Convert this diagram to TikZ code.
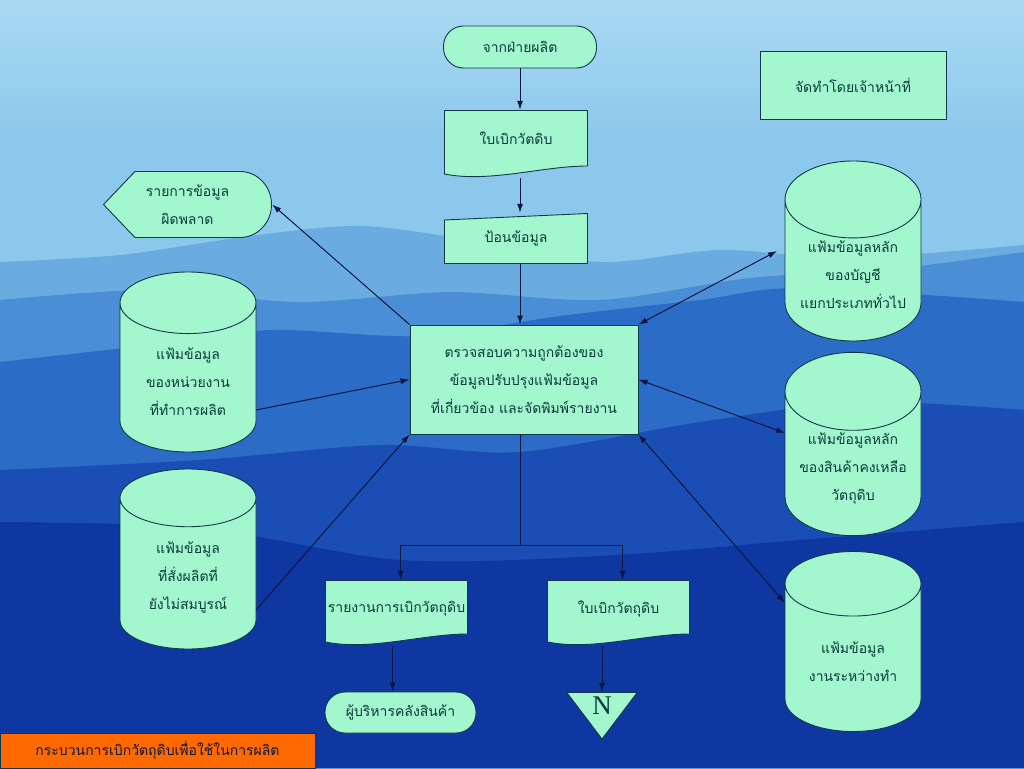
\documentclass[tikz,border=0pt]{standalone}
\usepackage{fontspec}
\usepackage{tikz}
\usetikzlibrary{shapes.geometric,arrows.meta,calc}
\newfontfamily\thaifont[Script=Thai]{Loma}
\newfontfamily\latinserif{Liberation Serif}
\definecolor{mint}{HTML}{A2F7CF}
\definecolor{txt}{HTML}{0B3A3A}
\definecolor{edge}{HTML}{123848}
\definecolor{arrowc}{HTML}{0A1640}
\definecolor{skya}{HTML}{7CC0E8}
\definecolor{skyb}{HTML}{C2E6F6}
\definecolor{skyc}{HTML}{A6D8F2}
\definecolor{skyd}{HTML}{8CC8EC}
\definecolor{ridgeA}{HTML}{6AACDF}
\definecolor{ridgeB}{HTML}{4A8ED6}
\definecolor{ridgeC}{HTML}{2A6CC6}
\definecolor{ridgeD}{HTML}{1A4EB4}
\definecolor{ridgeE}{HTML}{0E37A2}
\definecolor{footerc}{HTML}{FF6A00}
\pgfdeclareverticalshading{sky}{100bp}{color(0bp)=(skyd); color(66bp)=(skyd); color(74bp)=(skyc); color(87bp)=(skyb); color(100bp)=(skya)}
\tikzset{
	base/.style={font=\thaifont\fontsize{14}{28}\selectfont, text=txt, align=center, inner sep=2pt},
	term/.style={base, rectangle, rounded corners=20pt, draw=edge, fill=mint, line width=0.9pt, minimum width=153pt, minimum height=42pt},
	proc/.style={base, rectangle, draw=edge, fill=mint, line width=0.9pt, minimum width=228pt, minimum height=109pt},
	note/.style={base, rectangle, draw=edge, fill=mint, line width=0.9pt, minimum width=186pt, minimum height=68pt},
	store/.style={base, cylinder, shape border rotate=90, aspect=0.7, anchor=shape center, draw=edge, fill=mint, line width=0.9pt, minimum width=136pt, minimum height=180pt},
	doc/.style={base, rectangle, text depth=12pt, minimum width=144pt, minimum height=68pt, path picture={
		\filldraw[draw=edge, fill=mint, line width=0.9pt] ([shift={(0.5pt,-0.5pt)}]path picture bounding box.north west) -- ([shift={(-0.5pt,-0.5pt)}]path picture bounding box.north east) -- ([shift={(-0.5pt,12pt)}]path picture bounding box.south east) .. controls +(-45pt,0pt) and +(45pt,-9pt) .. ([shift={(0.5pt,4pt)}]path picture bounding box.south west) -- cycle;}},
	manual/.style={base, rectangle, minimum width=144pt, minimum height=51pt, path picture={
		\filldraw[draw=edge, fill=mint, line width=0.9pt] ([shift={(0.5pt,0.5pt)}]path picture bounding box.south west) -- ([shift={(0.5pt,-7pt)}]path picture bounding box.north west) -- ([shift={(-0.5pt,-0.5pt)}]path picture bounding box.north east) -- ([shift={(-0.5pt,0.5pt)}]path picture bounding box.south east) -- cycle;}},
	disp/.style={base, rectangle, minimum width=169pt, minimum height=67pt, path picture={
		\filldraw[draw=edge, fill=mint, line width=0.9pt] ([xshift=0.5pt]path picture bounding box.west) -- ([shift={(32pt,-0.5pt)}]path picture bounding box.north west) -- ([shift={(-32pt,-0.5pt)}]path picture bounding box.north east) arc[start angle=90, end angle=-90, x radius=31.5pt, y radius=33pt] -- ([shift={(32pt,0.5pt)}]path picture bounding box.south west) -- cycle;}},
	offpage/.style={rectangle, text=txt, font=\latinserif\fontsize{27}{27}\selectfont, inner sep=0pt, text depth=20pt, minimum width=72pt, minimum height=48pt, path picture={
		\filldraw[draw=edge, fill=mint, line width=0.9pt] ([shift={(0.8pt,-0.5pt)}]path picture bounding box.north west) -- ([shift={(-0.8pt,-0.5pt)}]path picture bounding box.north east) -- ([yshift=1pt]path picture bounding box.south) -- cycle;}},
	footer/.style={base, rectangle, fill=footerc, draw=edge, text=arrowc, line width=0.6pt, minimum width=315pt, minimum height=35pt},
	link/.style={draw=arrowc, line width=1pt},
}

\begin{document}
\begin{tikzpicture}[x=1pt,y=-1pt,>={Latex[length=9pt,width=6pt]}]
	\useasboundingbox (0,0) rectangle (1024,768);
	\shade[shading=sky] (0,0) rectangle (1024,768);
	\fill[ridgeA] plot[smooth] coordinates {(0,262) (120,255) (250,236) (360,226) (470,240) (600,262) (720,250) (850,258) (1024,245)} -- (1024,768) -- (0,768) -- cycle;
	\fill[ridgeB] plot[smooth] coordinates {(0,300) (150,290) (300,302) (450,292) (600,300) (750,278) (900,268) (1024,252)} -- (1024,768) -- (0,768) -- cycle;
	\fill[ridgeC] plot[smooth] coordinates {(0,362) (150,345) (270,330) (420,336) (560,316) (700,300) (800,288) (1024,302)} -- (1024,768) -- (0,768) -- cycle;
	\fill[ridgeD] plot[smooth] coordinates {(0,470) (200,460) (380,445) (520,452) (700,422) (860,402) (1024,410)} -- (1024,768) -- (0,768) -- cycle;
	\fill[ridgeE] plot[smooth] coordinates {(0,522) (200,528) (400,560) (600,556) (800,540) (1024,522)} -- (1024,768) -- (0,768) -- cycle;

	\node[term] (src) at (520,47) {จากฝ่ายผลิต};
	\node[doc] (req) at (516,144) {ใบเบิกวัตดิบ};
	\node[manual] (key) at (516,238.5) {ป้อนข้อมูล};
	\node[proc] (chk) at (524,379.5) {ตรวจสอบความถูกต้องของ\\ข้อมูลปรับปรุงแฟ้มข้อมูล\\ที่เกี่ยวข้อง และจัดพิมพ์รายงาน};
	\node[disp] (err) at (187.5,204.5) {รายการข้อมูล\\ผิดพลาด};
	\node[store] (unit) at (188,362) {แฟ้มข้อมูล\\ของหน่วยงาน\\ที่ทำการผลิต};
	\node[store] (pend) at (188,559) {แฟ้มข้อมูล\\ที่สั่งผลิตที่\\ยังไม่สมบูรณ์};
	\node[note] (staff) at (853,85) {จัดทำโดยเจ้าหน้าที่};
	\node[store] (gl) at (853,251) {แฟ้มข้อมูลหลัก\\ของบัญชี\\แยกประเภททั่วไป};
	\node[store] (stock) at (853,444) {แฟ้มข้อมูลหลัก\\ของสินค้าคงเหลือ\\วัตถุดิบ};
	\node[store] (wip) at (853,641.5) {แฟ้มข้อมูล\\งานระหว่างทำ};
	\node[doc, minimum width=143pt, minimum height=66pt] (rpt) at (396.5,613) {รายงานการเบิกวัตถุดิบ};
	\node[doc, minimum width=143pt, minimum height=66pt] (slip) at (618.5,613) {ใบเบิกวัตถุดิบ};
	\node[term, minimum width=151pt, minimum height=41pt] (mgr) at (400.5,712.5) {ผู้บริหารคลังสินค้า};
	\node[offpage] (conn) at (602,716) {N};
	\node[footer] (title) at (157.5,750.5) {กระบวนการเบิกวัตถุดิบเพื่อใช้ในการผลิต};

	\draw[link,->] (src) -- (src |- req.north);
	\draw[link,->] (src |- req.south) -- (src |- key.north);
	\draw[link,->] (src |- key.south) -- (src |- chk.north);
	\draw[link,->] (chk.north west) -- (err.east);
	\draw[link,->] ($(unit.shape center)+(68pt,-48pt)$) -- (chk.west);
	\draw[link,->] ($(pend.shape center)+(68pt,-51pt)$) -- (chk.south west);
	\draw[link,<->] (chk.north east) -- ($(gl.shape center)+(-76pt,0pt)$);
	\draw[link,<->] (chk.east) -- ($(stock.shape center)+(-68pt,11pt)$);
	\draw[link,<->] (chk.south east) -- ($(wip.shape center)+(-68pt,38.5pt)$);
	\draw[link] (src |- chk.south) -- ++(0,111) coordinate (split);
	\draw[link,->] (split) -| ([xshift=4pt]rpt.north);
	\draw[link,->] (split) -| ([xshift=4pt]slip.north);
	\draw[link,->] ([xshift=-4pt]rpt.south) -- ([xshift=-4pt]rpt.south |- mgr.north);
	\draw[link,->] (conn.north |- slip.south) -- (conn.north);
\end{tikzpicture}
\end{document}
